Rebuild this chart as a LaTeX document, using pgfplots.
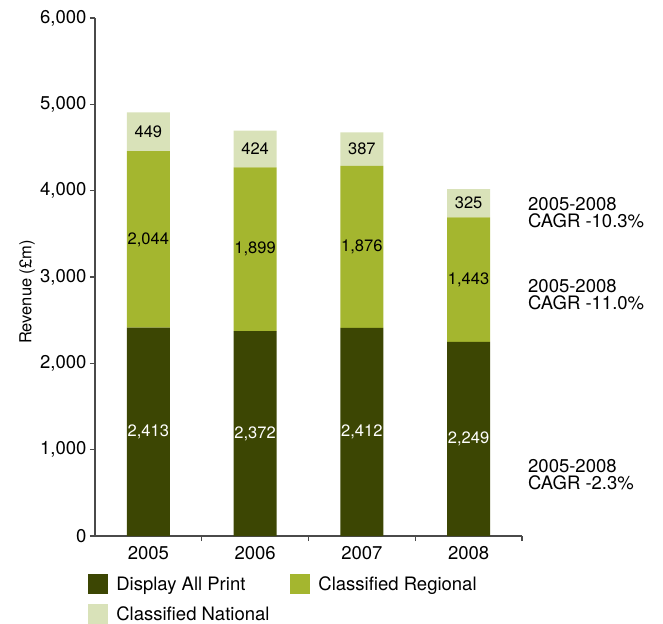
\documentclass[border=0pt]{standalone}
\usepackage{fontspec}
\setmainfont{TeX Gyre Heros}
\usepackage{pgfplots}
\pgfplotsset{compat=1.18}
\usepackage{pgfplotstable}
\definecolor{dap}{HTML}{3C4603}
\definecolor{cr}{HTML}{A4B62F}
\definecolor{cn}{HTML}{D9E2B9}
\definecolor{axg}{HTML}{4A4A4A}
\pgfplotsset{/pgf/number format/assume math mode=true}

\pgfplotstableread{
x d r n
0 2413 2044 449
1 2372 1899 424
2 2412 1876 387
3 2249 1443 325
}\data

\begin{document}
\begin{tikzpicture}[x=1pt,y=1pt]
\path[use as bounding box] (0,0) rectangle (663,623);
\begin{axis}[
  name=main,
  at={(95pt,87pt)}, anchor=south west,
  scale only axis, width=427pt, height=518pt,
  xmin=-0.5, xmax=3.5, ymin=0, ymax=6000,
  ybar stacked, bar width=43pt,
  axis lines*=left,
  axis line style={axg, line width=1.2pt},
  tick align=outside,
  major tick length=5pt, minor tick length=5pt,
  tick style={axg, line width=1.2pt},
  xtick={0,1,2,3}, xticklabels={2005,2006,2007,2008},
  major x tick style={draw=none},
  minor xtick={0.5,1.5,2.5,3.5},
  ytick={0,1000,2000,3000,4000,5000,6000},
  scaled y ticks=false,
  yticklabel style={/pgf/number format/1000 sep={,}, /pgf/number format/fixed},
  ticklabel style={font=\fontsize{18.5}{18.5}\selectfont},
  xticklabel style={yshift=-2pt},
  legend columns=2,
  legend style={draw=none, fill=none, at={(axis description cs:-0.023,-0.0695)}, anchor=north west,
    font=\fontsize{18.5}{18.5}\selectfont, row sep=10pt,
    /tikz/every odd column/.append style={column sep=6pt},
    /tikz/every even column/.append style={column sep=19pt}},
  legend cell align=left,
]
\addplot[fill=dap, draw=none, legend image code/.code={\fill[dap] (0pt,-10pt) rectangle (20pt,10pt);}] table[x=x, y=d] {\data};
\addplot[fill=cr, draw=none, legend image code/.code={\fill[cr] (0pt,-10pt) rectangle (20pt,10pt);}] table[x=x, y=r] {\data};
\addplot[fill=cn, draw=none, legend image code/.code={\fill[cn] (0pt,-10pt) rectangle (20pt,10pt);}] table[x=x, y=n] {\data};
\legend{Display All Print, Classified Regional, Classified National}
\end{axis}
\begin{axis}[
  at={(95pt,87pt)}, anchor=south west,
  scale only axis, width=427pt, height=518pt,
  xmin=-0.5, xmax=3.5, ymin=0, ymax=6000,
  hide axis, clip=false,
  nodes near coords, nodes near coords align={center},
  every node near coord/.append style={font=\fontsize{16.5}{16.5}\selectfont, /pgf/number format/1000 sep={,}, /pgf/number format/fixed},
]
\addplot[draw=none, mark=none, point meta=\thisrow{d}, every node near coord/.append style={white}] table[x=x, y expr=\thisrow{d}/2] {\data};
\addplot[draw=none, mark=none, point meta=\thisrow{r}, every node near coord/.append style={black}] table[x=x, y expr=\thisrow{d}+\thisrow{r}/2] {\data};
\addplot[draw=none, mark=none, point meta=\thisrow{n}, every node near coord/.append style={black}] table[x=x, y expr=\thisrow{d}+\thisrow{r}+\thisrow{n}/2] {\data};
\node[anchor=north west, align=left, inner sep=0pt, font=\fontsize{18.5}{17}\selectfont] at (axis cs:3.556,3927) {2005-2008\\CAGR -10.3\%};
\node[anchor=north west, align=left, inner sep=0pt, font=\fontsize{18.5}{17}\selectfont] at (axis cs:3.556,2977) {2005-2008\\CAGR -11.0\%};
\node[anchor=north west, align=left, inner sep=0pt, font=\fontsize{18.5}{17}\selectfont] at (axis cs:3.556,892) {2005-2008\\CAGR -2.3\%};
\end{axis}
\node[rotate=90, font=\fontsize{16.5}{18}\selectfont] at (27,331) {Revenue (£m)};
\end{tikzpicture}
\end{document}
